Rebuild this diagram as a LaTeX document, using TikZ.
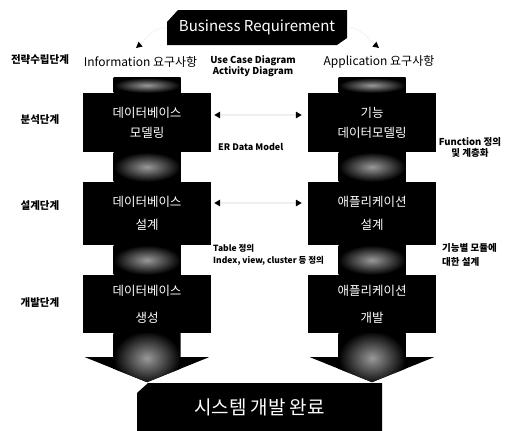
\documentclass[tikz,border=0pt]{standalone}
\usepackage{fontspec}
\setmainfont{Noto Sans CJK KR}
\usetikzlibrary{arrows.meta}
\tikzset{
  colbox/.style={fill=black, text=white, minimum width=128pt, inner sep=0pt, align=center},
  neckshade/.style={inner color=black!40, outer color=black},
  stagelbl/.style={font=\bfseries\fontsize{10.5}{12}\selectfont, inner sep=0pt},
  reqlbl/.style={font=\fontsize{12}{14}\selectfont, inner sep=0pt},
  note/.style={font=\bfseries\fontsize{9}{11}\selectfont, inner sep=0pt},
  midarrow/.style={{Triangle[black,length=6pt,width=6.5pt]}-{Triangle[black,length=6pt,width=6.5pt]}, draw=black!6, line width=2pt},
  toparrow/.style={-{Triangle[black,length=6pt,width=6pt]}, draw=black!4, line width=1pt},
}
\newcommand{\colneck}[2]{%
  \fill[black] #1 rectangle #2;
  \shade[neckshade] #1 rectangle #2;}
\begin{document}
\begin{tikzpicture}[x=1pt,y=-1pt]
\clip (0,0) rectangle (507,431);
\fill[white] (0,0) rectangle (507,431);

% business requirement
\node[minimum width=180pt, minimum height=35pt, inner sep=0pt, text=white,
  font=\fontsize{15}{17}\selectfont,
  path picture={\fill[black] ([yshift=-12pt]path picture bounding box.north west)
    -- ([xshift=11pt]path picture bounding box.north west)
    -- (path picture bounding box.north east)
    -- ([yshift=7pt]path picture bounding box.south east)
    -- ([xshift=-10pt]path picture bounding box.south east)
    -- (path picture bounding box.south west) -- cycle;}]
  (BR) at (257,27.5) {\raisebox{-1.5pt}{Business Requirement}};
\coordinate (aL) at (136,48);
\coordinate (aR) at (379,48);
\draw[toparrow] (BR.west) to[out=180,in=40] (aL);
\draw[toparrow] (BR.east) to[out=0,in=140] (aR);

% stage labels
\node[stagelbl] (s0) at (40,60) {전략수립단계};
\node[stagelbl] (s1) at (40,120) {분석단계};
\node[stagelbl] (s2) at (40,206) {설계단계};
\node[stagelbl] (s3) at (40,303) {개발단계};

% requirement headers
\node[reqlbl] (infoReq) at (140.5,62) {Information 요구사항};
\node[reqlbl] (appReq) at (379,62) {Application 요구사항};
\node[note, align=center, font=\bfseries\fontsize{9.5}{11}\selectfont] (uc) at (253,66.5) {Use Case Diagram\\Activity Diagram};

% column boxes
\node[colbox, minimum height=59pt, font=\fontsize{12.5}{20}\selectfont] (L1) at (147,122.5) {데이터베이스\\모델링};
\node[colbox, minimum height=63pt, font=\fontsize{12.5}{23}\selectfont] (L2) at (147,213.5) {데이터베이스\\설계};
\node[colbox, minimum height=58pt, font=\fontsize{12.5}{27}\selectfont] (L3) at (147,304) {데이터베이스\\생성};
\node[colbox, minimum height=59pt, font=\fontsize{12.5}{20}\selectfont] (R1) at (372,122.5) {기능\\데이터모델링};
\node[colbox, minimum height=63pt, font=\fontsize{12.5}{23}\selectfont] (R2) at (372,213.5) {애플리케이션\\설계};
\node[colbox, minimum height=58pt, font=\fontsize{12.5}{27}\selectfont] (R3) at (372,304) {애플리케이션\\개발};

% necks
\colneck{([xshift=-33.5pt]L1.north)}{([shift={(33.5pt,15pt)}]L1.north)}
\colneck{([xshift=-33.5pt]L1.south)}{([xshift=33.5pt]L2.north)}
\colneck{([xshift=-33.5pt]L2.south)}{([xshift=33.5pt]L3.north)}
\colneck{([xshift=-33.5pt]R1.north)}{([shift={(33.5pt,15pt)}]R1.north)}
\colneck{([xshift=-33.5pt]R1.south)}{([xshift=33.5pt]R2.north)}
\colneck{([xshift=-33.5pt]R2.south)}{([xshift=33.5pt]R3.north)}

% bottom arrow heads
\foreach \c in {L3,R3}{
  \begin{scope}
    \path[clip] ([xshift=-33.5pt]\c.south) -- ([xshift=-33.5pt,yshift=-24pt]\c.south)
      -- ([xshift=-62pt,yshift=-24pt]\c.south) -- ([yshift=-49pt]\c.south)
      -- ([xshift=62pt,yshift=-24pt]\c.south) -- ([xshift=33.5pt,yshift=-24pt]\c.south)
      -- ([xshift=33.5pt]\c.south) -- cycle;
    \fill[black] ([xshift=-62pt]\c.south) rectangle ([xshift=62pt,yshift=-50pt]\c.south);
    \shade[neckshade] ([xshift=-33.5pt,yshift=2pt]\c.south) rectangle ([xshift=33.5pt,yshift=-52pt]\c.south);
  \end{scope}
}

% cross arrows
\draw[midarrow] ([shift={(3pt,7.5pt)}]L1.east) -- ([shift={(-6pt,7.5pt)}]R1.west);
\draw[midarrow] ([shift={(3pt,10.5pt)}]L2.east) -- ([shift={(-6pt,10.5pt)}]R2.west);

% notes
\node[note, anchor=west] (er) at (218,147) {ER Data Model};
\node[note, align=center, font=\bfseries\fontsize{9.5}{11}\selectfont] (fn) at (470,147) {Function 정의\\및 계층화};
\node[note, align=left, anchor=west, font=\bfseries\fontsize{8.5}{12}\selectfont] (tbl) at (213,255) {Table 정의\\Index, view, cluster 등 정의};
\node[note, align=left, anchor=west, font=\bfseries\fontsize{9.5}{14}\selectfont] (mod) at (442,255) {기능별 모듈에\\대한 설계};

% final box
\node[minimum width=245pt, minimum height=48pt, inner sep=0pt, text=white,
  font=\fontsize{19}{21}\selectfont,
  path picture={\fill[black] ([yshift=-10pt]path picture bounding box.north west)
    -- ([xshift=11pt]path picture bounding box.north west)
    -- (path picture bounding box.north east)
    -- (path picture bounding box.south east)
    -- (path picture bounding box.south west) -- cycle;}]
  (done) at (259.5,407) {\raisebox{-9pt}{시스템 개발 완료}};
\end{tikzpicture}
\end{document}
